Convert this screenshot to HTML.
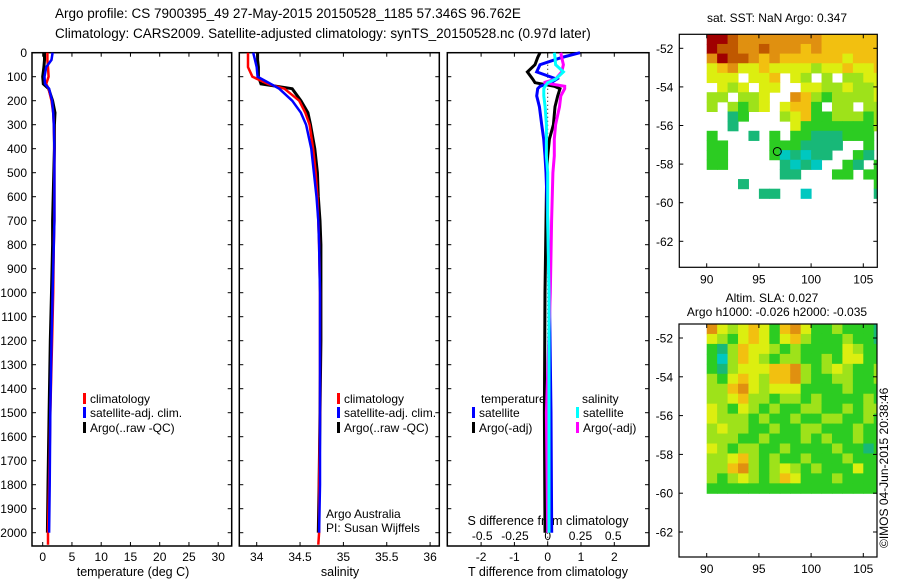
<!DOCTYPE html>
<html><head><meta charset="utf-8">
<style>
html,body{margin:0;padding:0;background:#fff;}
svg{display:block;font-family:"Liberation Sans",Arial,sans-serif;}
text{fill:#000;}
</style></head>
<body>
<svg id="fig" width="900" height="580" viewBox="0 0 900 580" xmlns="http://www.w3.org/2000/svg">
<text x="55" y="18" font-size="13.5">Argo profile: CS 7900395_49 27-May-2015 20150528_1185 57.346S 96.762E</text>
<text x="55" y="38" font-size="13.5">Climatology: CARS2009. Satellite-adjusted climatology: synTS_20150528.nc (0.97d later)</text>
<text x="133" y="576" font-size="12.5" text-anchor="middle">temperature (deg C)</text>
<text x="340" y="576" font-size="12.5" text-anchor="middle">salinity</text>
<text x="548" y="576" font-size="12.5" text-anchor="middle">T difference from climatology</text>
<text x="548" y="525" font-size="12.5" text-anchor="middle">S difference from climatology</text>
<text x="326" y="518" font-size="12">Argo Australia</text>
<text x="326" y="532" font-size="12">PI: Susan Wijffels</text>
<text x="777" y="22" font-size="12" text-anchor="middle">sat. SST: NaN Argo: 0.347</text>
<text x="772" y="302" font-size="12" text-anchor="middle">Altim. SLA: 0.027</text>
<text x="777" y="316" font-size="12" text-anchor="middle">Argo h1000: -0.026 h2000: -0.035</text>
<text x="0" y="0" font-size="12" transform="translate(888,548) rotate(-90)">©IMOS 04-Jun-2015 20:38:46</text>
<g id="layer"></g>
</svg>
<script>
// ---- data ----
const depthLevels=[0,30,60,100,130,150,200,250,300,400,500,600,700,800,1000,1200,1500,1800,2000,2050];
const tempClim=[0.8,0.8,0.9,1.0,0.6,1.0,1.5,1.8,1.9,2.0,2.0,2.0,2.0,1.9,1.8,1.6,1.3,1.1,0.9,0.9];
const tempSat=[1.7,1.5,0.6,0.3,0.4,1.1,1.6,1.8,1.9,2.0,2.0,2.0,2.0,1.9,1.7,1.5,1.3,1.2,1.1,null];
const tempArgo=[0.3,0.3,0.2,0.0,0.1,1.0,1.7,2.1,2.0,2.0,1.9,1.8,1.7,1.7,1.5,1.3,1.1,0.9,0.8,null];
const salClim=[33.90,33.90,33.90,33.95,34.13,34.32,34.49,34.56,34.61,34.65,34.68,34.70,34.71,34.72,34.73,34.73,34.73,34.72,34.72,34.71];
const salSat=[33.96,33.98,34.00,34.01,34.16,34.26,34.41,34.51,34.57,34.63,34.66,34.69,34.71,34.72,34.73,34.73,34.73,34.73,34.72,null];
const salArgo=[34.01,34.01,34.02,34.02,34.05,34.41,34.51,34.59,34.62,34.67,34.70,34.71,34.73,34.74,34.74,34.74,34.73,34.72,34.71,null];
const diffDepths=[0,20,50,80,110,125,140,150,180,225,300,360,430,500,700,1000,1500,2000];
const dTSat=[0.97,0.42,-0.23,-0.33,0.27,0.1,-0.23,-0.3,-0.33,-0.25,-0.18,-0.12,-0.08,-0.05,0.0,0.05,0.1,0.12];
const dTArgo=[-0.23,-0.3,-0.38,-0.61,-0.45,-0.38,0.2,0.37,0.3,0.22,0.17,0.05,0.0,-0.03,-0.05,-0.08,-0.1,-0.08];
const dSSat=[0.05,0.056,0.06,0.12,0.06,0.0,-0.02,-0.03,-0.03,-0.02,-0.01,-0.01,-0.01,0.0,0.0,0.01,0.01,0.01];
const dSArgo=[0.1,0.107,0.12,0.107,0.06,-0.03,0.13,0.13,0.1,0.09,0.06,0.05,0.05,0.04,0.03,0.02,-0.01,0.0];
const depthTicks=[0,100,200,300,400,500,600,700,800,900,1000,1100,1200,1300,1400,1500,1600,1700,1800,1900,2000];
const tempTicks=[0,5,10,15,20,25,30];
const salTicks=[34,34.5,35,35.5,36];
const salTickLabels=["34","34.5","35","35.5","36"];
const dTTicks=[-2,-1,0,1,2];
const dSTicks=[-0.5,-0.25,0,0.25,0.5];
const dSTickLabels=["-0.5","-0.25","0","0.25","0.5"];
const mapLonTicks=[90,95,100,105];
const mapLatTicks=[-52,-54,-56,-58,-60,-62];
const sstRows=[
[9,9,8,7,7,7,7,7,7,7,7,6,6,6,6,6,6],
[9,8,8,7,7,8,7,7,7,6,7,6,6,6,6,6,6],
[7,9,8,8,7,6,7,6,6,6,6,6,6,5,6,6,6],
[5,6,7,5,5,6,5,5,5,5,4,5,5,6,5,5,6],
[5,5,5,null,5,5,6,null,5,4,null,4,null,4,4,5,5],
[null,5,4,5,null,5,5,null,null,5,5,4,4,5,4,4,5],
[4,4,null,4,4,5,null,null,7,6,4,3,4,4,4,4,5],
[4,null,4,3,4,5,null,5,6,6,3,null,4,4,null,4,4],
[null,null,2,3,null,null,null,4,5,6,3,3,4,4,4,3,4],
[null,null,2,null,null,null,null,null,5,3,3,3,3,3,3,3,4],
[3,null,null,null,2,null,3,null,3,3,2,2,2,3,3,3,null],
[3,3,null,null,null,null,3,3,3,2,2,2,2,null,null,3,null],
[3,3,null,null,null,null,3,1,2,1,2,2,null,null,3,2,null],
[3,3,null,null,null,null,null,2,1,2,1,null,null,3,2,null,3],
[null,null,null,null,null,null,null,2,2,null,null,null,3,3,null,3,3],
[null,null,null,2,null,null,null,null,null,null,null,null,null,null,null,null,3],
[null,null,null,null,null,2,2,null,null,1,null,null,null,null,null,null,2]];
const slaRows=[
[7,5,4,5,6,5,3,6,7,5,3,3,4,3,3,3,2],
[5,4,3,5,6,5,3,5,6,4,3,3,3,4,3,3,2],
[3,2,4,6,5,5,4,3,4,3,3,3,3,5,4,3,3],
[3,1,4,6,5,4,3,4,4,3,3,4,3,5,5,3,3],
[3,2,4,5,5,5,6,6,7,4,3,4,5,4,3,3,4],
[4,3,5,6,5,4,6,6,7,4,3,3,4,4,3,3,4],
[4,4,6,7,5,4,5,5,5,3,3,3,3,4,3,3,3],
[4,4,5,6,4,4,3,4,4,3,4,3,3,3,3,4,3],
[5,4,3,5,4,3,4,3,3,4,4,3,3,4,3,4,4],
[5,4,4,4,3,4,3,3,4,3,3,4,4,3,3,4,3],
[4,5,4,4,3,3,4,3,3,4,4,3,3,3,4,3,3],
[4,4,4,3,3,4,3,3,3,4,3,4,3,3,4,3,3],
[5,4,3,4,4,3,3,4,3,3,3,3,4,3,3,2,3],
[4,4,5,6,4,3,4,3,3,4,3,3,3,4,3,3,3],
[4,4,6,7,4,3,4,5,4,3,4,3,3,3,5,3,3],
[4,3,4,5,4,3,4,6,5,3,3,3,4,3,3,3,3],
[3,3,3,3,3,3,3,3,3,3,3,3,3,3,3,3,3]];
const argoLon=96.762, argoLat=-57.346;

// ---- scales ----
const NS="http://www.w3.org/2000/svg";
const layer=document.getElementById('layer');
function mk(tag,attrs,parent){const e=document.createElementNS(NS,tag);for(const k in attrs)e.setAttribute(k,attrs[k]);(parent||layer).appendChild(e);return e;}
const yDepth=d=>52.7+d*0.24;
const xTemp=t=>42.7+t*5.85;
const xSal=s=>256.7+(s-34)*86.7;
const xDT=t=>547.7+t*33.3;
const xDS=s=>547.7+s*131;
const colors=["#00007f","#00c8c0","#18b878","#2ccc22","#9ee21a","#dcee10","#f2c010","#e09010","#c05800","#a00000"];
const P=[{x0:32,x1:231.7},{x0:239.3,x1:439.3},{x0:447.3,x1:649}];
const PT=52.7,PB=546;

P.forEach((p,i)=>{
  const r=mk('rect',{x:p.x0,y:PT,width:p.x1-p.x0,height:PB-PT,fill:'none',stroke:'#000','stroke-width':1.5});
  
  
  depthTicks.forEach(d=>{
    mk('line',{x1:p.x0,x2:p.x0+4,y1:yDepth(d),y2:yDepth(d),stroke:'#000'});
    mk('line',{x1:p.x1,x2:p.x1-4,y1:yDepth(d),y2:yDepth(d),stroke:'#000'});
  });
});
depthTicks.forEach(d=>{
  const t=mk('text',{x:27,y:yDepth(d)+4.5,'font-size':12,'text-anchor':'end'});
  t.textContent=d;
  
  
});
function xticks(vals,labels,fx,ly,name){
  vals.forEach((v,i)=>{
    const x=fx(v);
    mk('line',{x1:x,x2:x,y1:PT,y2:PT+4,stroke:'#000'});
    mk('line',{x1:x,x2:x,y1:PB,y2:PB-4,stroke:'#000'});
    const t=mk('text',{x:x,y:ly,'font-size':12,'text-anchor':'middle'});
    t.textContent=labels[i];
    
    
  });
}
xticks(tempTicks,tempTicks.map(String),xTemp,561,'temperature-tick-label');
xticks(salTicks,salTickLabels,xSal,561,'salinity-tick-label');
xticks(dTTicks,dTTicks.map(String),xDT,561,'t-diff-tick-label');
dSTicks.forEach((v,i)=>{
  const t=mk('text',{x:xDS(v),y:540,'font-size':12,'text-anchor':'middle'});
  t.textContent=dSTickLabels[i];
  
  
});
const z=mk('line',{x1:xDT(0),x2:xDT(0),y1:yDepth(0),y2:yDepth(2050),stroke:'#000','stroke-dasharray':'1,3','stroke-width':1});



function series(depths,vals,fx,color,name,w){
  const pts=[];
  vals.forEach((v,i)=>{if(v!==null)pts.push(fx(v).toFixed(1)+','+yDepth(depths[i]).toFixed(1));});
  const pl=mk('polyline',{points:pts.join(' '),fill:'none',stroke:color,'stroke-width':w||3,'stroke-linejoin':'miter'});
  
  
}
series(depthLevels,tempArgo,xTemp,'#000','temp-argo-line',3);
series(depthLevels,tempClim,xTemp,'#f00','temp-climatology-line',2.5);
series(depthLevels,tempSat,xTemp,'#0000ff','temp-satellite-line',2.5);
series(depthLevels,salArgo,xSal,'#000','sal-argo-line',3);
series(depthLevels,salClim,xSal,'#f00','sal-climatology-line',2.5);
series(depthLevels,salSat,xSal,'#0000ff','sal-satellite-line',2.5);
series(diffDepths,dTArgo,xDT,'#000','dt-argo-line',3);
series(diffDepths,dTSat,xDT,'#0000ff','dt-satellite-line',3);
series(diffDepths,dSArgo,xDS,'#ff00ff','ds-argo-line',3);
series(diffDepths,dSSat,xDS,'#00ffff','ds-satellite-line',3);

function legend(x,y,color,label){
  const g=mk('g',{});
  
  
  mk('rect',{x:x,y:y-10,width:3,height:11,fill:color},g);
  const t=mk('text',{x:x+7,y:y,'font-size':12},g);t.textContent=label;
}
legend(83,403,'#f00','climatology');
legend(83,417,'#0000ff','satellite-adj. clim.');
legend(83,432,'#000','Argo(..raw -QC)');
legend(337,403,'#f00','climatology');
legend(337,417,'#0000ff','satellite-adj. clim.');
legend(337,432,'#000','Argo(..raw -QC)');
const lt=mk('text',{x:481,y:403,'font-size':12});lt.textContent='temperature';


const ls=mk('text',{x:582,y:403,'font-size':12});ls.textContent='salinity';


legend(472,417,'#0000ff','satellite');
legend(472,432,'#000','Argo(-adj)');
legend(576,417,'#00ffff','satellite');
legend(576,432,'#ff00ff','Argo(-adj)');

function drawMap(rows,frame,lonX,latY,name,withMarker){
  const g=mk('g',{});
  
  
  const cw=10.44, ch=frame.rh;
  rows.forEach((row,r)=>row.forEach((v,c)=>{
    if(v===null)return;
    const x=lonX(90+c), y=frame.gy0+r*ch;
    const w=Math.min(cw+0.5,frame.x1-x);
    if(w<=0)return;
    const cell=mk('rect',{x:x,y:y,width:w,height:ch+0.5,fill:colors[v]},g);
    
    
  }));
  mk('rect',{x:frame.x0,y:frame.y0,width:frame.x1-frame.x0,height:frame.y1-frame.y0,fill:'none',stroke:'#000','stroke-width':1.2},g);
  mapLonTicks.forEach(l=>{
    const x=lonX(l);
    mk('line',{x1:x,x2:x,y1:frame.y1,y2:frame.y1-4,stroke:'#000'},g);
    mk('line',{x1:x,x2:x,y1:frame.y0,y2:frame.y0+4,stroke:'#000'},g);
    const t=mk('text',{x:x,y:frame.y1+16,'font-size':12,'text-anchor':'middle'},g);t.textContent=l;
  });
  mapLatTicks.forEach(l=>{
    const y=latY(l);
    mk('line',{x1:frame.x0,x2:frame.x0+4,y1:y,y2:y,stroke:'#000'},g);
    mk('line',{x1:frame.x1,x2:frame.x1-4,y1:y,y2:y,stroke:'#000'},g);
    const t=mk('text',{x:frame.x0-6,y:y+4.5,'font-size':12,'text-anchor':'end'},g);t.textContent=l;
  });
  if(withMarker){
    const c=mk('circle',{cx:lonX(argoLon),cy:latY(argoLat),r:4,fill:'none',stroke:'#000','stroke-width':1},g);
    
    
  }
}
const lonX=l=>706.7+(l-90)*10.44;
const lat1=l=>48.3+(-52-l)*19.3;
const lat2=l=>338+(-52-l)*19.4;
drawMap(sstRows,{x0:679.3,x1:877.3,y0:34.3,y1:267.3,gy0:34.3,rh:9.65},lonX,lat1,'sst-map',true);
drawMap(slaRows,{x0:679,x1:877,y0:324,y1:557,gy0:324,rh:(493.3-324)/17},lonX,lat2,'sla-map',false);
</script>
</body></html>
